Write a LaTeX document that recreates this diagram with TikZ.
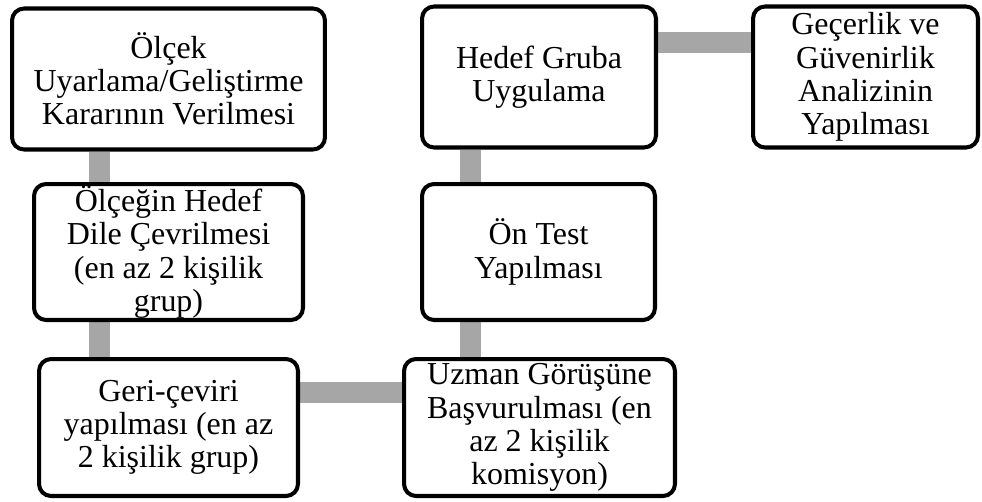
\documentclass[tikz,border=0pt]{standalone}
\usepackage{fontspec}
\setmainfont{Liberation Serif}
\usetikzlibrary{positioning,backgrounds}
\definecolor{linkgray}{HTML}{A6A6A6}

\begin{document}
\begin{tikzpicture}[x=0.02cm, y=-0.02cm,
    stage/.style={draw, line width=2.3pt, rounded corners=0.24cm, fill=white,
      inner sep=0pt, align=center,
      font=\fontsize{18.2}{18.9}\selectfont},
    link/.style={draw=linkgray, line width=0.42cm}]
  \useasboundingbox (0,0) rectangle (982,501);
  \node[stage, minimum width=6.26cm, minimum height=2.82cm] (karar)   at (168.5,79)
    {Ölçek\\Uyarlama/Geliştirme\\Kararının Verilmesi};
  \node[stage, minimum width=5.38cm, minimum height=2.72cm] (ceviri)  at (168.5,252)
    {Ölçeğin Hedef\\Dile Çevrilmesi\\(en az 2 kişilik\\grup)};
  \node[stage, minimum width=5.18cm, minimum height=2.74cm] (geri)    at (168.5,427.5)
    {Geri-çeviri\\yapılması (en az\\2 kişilik grup)};
  \node[stage, minimum width=5.42cm, minimum height=2.74cm] (uzman)   at (539.5,427.5)
    {Uzman Görüşüne\\Başvurulması (en\\az 2 kişilik\\komisyon)};
  \node[stage, minimum width=4.66cm, minimum height=2.72cm] (ontest)  at (538.5,252)
    {Ön Test\\Yapılması};
  \node[stage, minimum width=4.68cm, minimum height=2.82cm] (hedef)   at (539,77)
    {Hedef Gruba\\Uygulama};
  \node[stage, minimum width=4.50cm, minimum height=2.82cm] (analiz)  at (865.5,77)
    {Geçerlik ve\\Güvenirlik\\Analizinin\\Yapılması};
  % gray bars behind the boxes
  \coordinate (leftbar)  at (99,0);
  \coordinate (rightbar) at (470,0);
  \coordinate (lowbar)   at (0,392.5);
  \coordinate (topbar)   at (0,42.5);
  \begin{scope}[on background layer]
    \draw[link] (karar.south -| leftbar) -- (ceviri.north -| leftbar);
    \draw[link] (ceviri.south -| leftbar) -- (geri.north -| leftbar);
    \draw[link] (geri.east |- lowbar) -- (uzman.west |- lowbar);
    \draw[link] (uzman.north -| rightbar) -- (ontest.south -| rightbar);
    \draw[link] (ontest.north -| rightbar) -- (hedef.south -| rightbar);
    \draw[link] (hedef.east |- topbar) -- (analiz.west |- topbar);
  \end{scope}
\end{tikzpicture}
\end{document}
